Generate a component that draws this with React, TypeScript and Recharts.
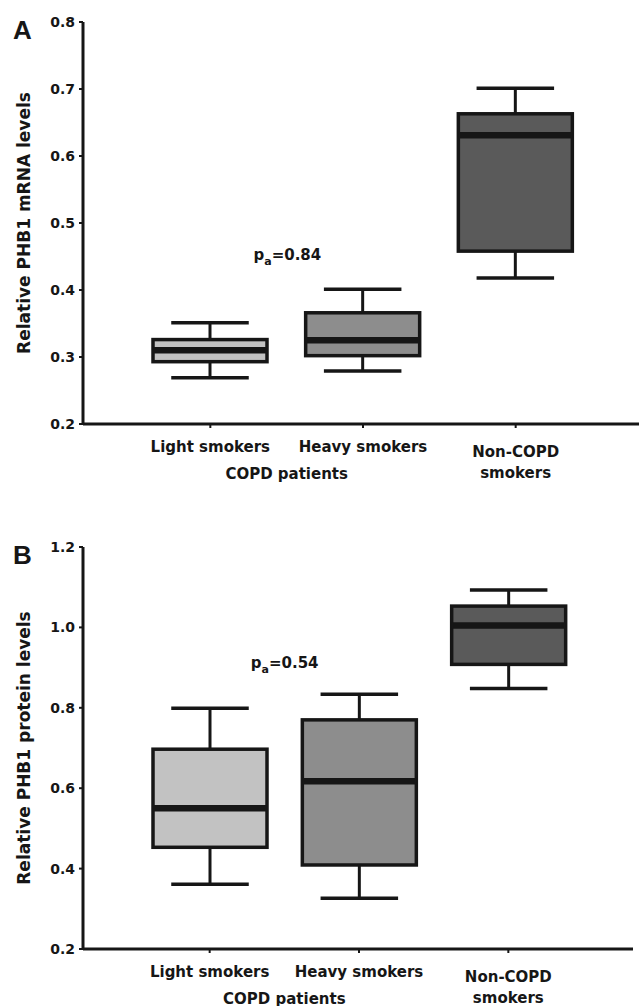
import { ComposedChart, Bar, XAxis, YAxis, ReferenceDot } from 'recharts'

const categories = ['Light smokers', 'Heavy smokers', 'Non-COPD smokers']
const categoryLines = [['Light smokers'], ['Heavy smokers'], ['Non-COPD', 'smokers']]
const groupLabel = 'COPD patients'
const fills = ['#c2c2c2', '#8d8d8d', '#5a5a5a']

// A: relative PHB1 mRNA levels
const mrnaMin = [0.269, 0.279, 0.418]
const mrnaQ1 = [0.293, 0.302, 0.458]
const mrnaMedian = [0.31, 0.325, 0.631]
const mrnaQ3 = [0.326, 0.366, 0.663]
const mrnaMax = [0.351, 0.401, 0.701]
const mrnaTicks = [0.2, 0.3, 0.4, 0.5, 0.6, 0.7, 0.8]

// B: relative PHB1 protein levels
const protMin = [0.361, 0.326, 0.848]
const protQ1 = [0.453, 0.409, 0.908]
const protMedian = [0.55, 0.617, 1.005]
const protQ3 = [0.697, 0.77, 1.053]
const protMax = [0.799, 0.834, 1.093]
const protTicks = [0.2, 0.4, 0.6, 0.8, 1.0, 1.2]

const INK = '#161616'
const FONT = 'DejaVu Sans'

const buildRows = (min: number[], q1: number[], med: number[], q3: number[], max: number[]) =>
  categories.map((name, i) => ({
    name,
    min: min[i],
    q1: q1[i],
    median: med[i],
    q3: q3[i],
    max: max[i],
    fill: fills[i],
  }))

const BoxShape = (props: any) => {
  const { x, y, width, height, payload } = props
  const { min, q1, median, q3, max, fill } = payload
  // y is the pixel of max, y + height the pixel of min
  const toPx = (v: number) => y + ((max - v) / (max - min)) * height
  const cx = x + width / 2
  const cap = width * 0.34
  const top = toPx(q3)
  const bottom = toPx(q1)
  const mid = toPx(median)
  return (
    <g>
      <line x1={cx} x2={cx} y1={y} y2={top} stroke={INK} strokeWidth={3} />
      <line x1={cx} x2={cx} y1={bottom} y2={y + height} stroke={INK} strokeWidth={3} />
      <line x1={cx - cap} x2={cx + cap} y1={y} y2={y} stroke={INK} strokeWidth={3.5} />
      <line x1={cx - cap} x2={cx + cap} y1={y + height} y2={y + height} stroke={INK} strokeWidth={3.5} />
      <rect x={x} y={top} width={width} height={bottom - top} fill={fill} stroke={INK} strokeWidth={3.5} />
      <line x1={x} x2={x + width} y1={mid} y2={mid} stroke={INK} strokeWidth={6.5} />
    </g>
  )
}

const makeTick = () => {
  let firstX = 0
  return (props: any) => {
    const { x, y, index } = props
    if (index === 0) firstX = x
    const lines = categoryLines[index] || []
    const style = { fontFamily: FONT, fontWeight: 700, fontSize: 15, fill: INK }
    return (
      <g>
        {lines.length === 1 ? (
          <text x={x} y={y + 24} textAnchor="middle" style={style}>{lines[0]}</text>
        ) : (
          lines.map((l, k) => (
            <text key={k} x={x} y={y + 29 + k * 21} textAnchor="middle" style={style}>{l}</text>
          ))
        )}
        {index === 1 && (
          <text x={(firstX + x) / 2} y={y + 51} textAnchor="middle" style={style}>{groupLabel}</text>
        )}
      </g>
    )
  }
}

const PValue = ({ cx, cy, value }: any) => (
  <text x={cx} y={cy} textAnchor="middle" style={{ fontFamily: FONT, fontWeight: 700, fontSize: 15, fill: INK }}>
    <tspan>p</tspan>
    <tspan dy={5} fontSize={11}>a</tspan>
    <tspan dy={-5}>={value}</tspan>
  </text>
)

interface PanelProps {
  letter: string
  yLabel: string
  rows: any[]
  ticks: number[]
  height: number
  xAxisHeight: number
  right: number
  padLeft: number
  padRight: number
  pValue: string
  pY: number
  pDx: number
}

const Panel = ({ letter, yLabel, rows, ticks, height, xAxisHeight, right, padLeft, padRight, pValue, pY, pDx }: PanelProps) => (
  <ComposedChart width={639} height={height} data={rows} margin={{ top: 22, right, bottom: 0, left: 0 }}>
    <XAxis
      dataKey="name"
      height={xAxisHeight}
      padding={{ left: padLeft, right: padRight }}
      axisLine={{ stroke: INK, strokeWidth: 3 }}
      tickLine={{ stroke: INK, strokeWidth: 2 }}
      tickSize={4}
      tickMargin={0}
      interval={0}
      tick={makeTick()}
    />
    <YAxis
      type="number"
      domain={[ticks[0], ticks[ticks.length - 1]]}
      ticks={ticks}
      width={83}
      interval={0}
      tickFormatter={(v: number) => v.toFixed(1)}
      axisLine={{ stroke: INK, strokeWidth: 3 }}
      tickLine={{ stroke: INK, strokeWidth: 2 }}
      tickSize={4}
      tickMargin={4}
      tick={{ fontFamily: FONT, fontWeight: 700, fontSize: 14, fill: INK }}
      label={{
        content: ({ viewBox }: any) => (
          <g>
            <text x={13} y={viewBox.y + 17} style={{ fontFamily: 'Liberation Sans', fontWeight: 700, fontSize: 26, fill: INK }}>
              {letter}
            </text>
            <text
              x={30}
              y={viewBox.y + viewBox.height / 2}
              textAnchor="middle"
              transform={`rotate(-90, 30, ${viewBox.y + viewBox.height / 2})`}
              style={{ fontFamily: FONT, fontWeight: 700, fontSize: 17, fill: INK }}
            >
              {yLabel}
            </text>
          </g>
        ),
      }}
    />
    <Bar dataKey={(d: any) => [d.min, d.max]} barSize={114} shape={BoxShape} isAnimationActive={false} />
    <ReferenceDot
      x={categories[0]}
      y={pY}
      r={0}
      shape={(p: any) => <PValue cx={p.cx + pDx} cy={p.cy} value={pValue} />}
    />
  </ComposedChart>
)

export default function App() {
  return (
    <div style={{ position: 'absolute', left: 0, top: 0, width: 639, height: 1006, background: '#fff', overflow: 'hidden' }}>
      <Panel
        letter="A"
        yLabel="Relative PHB1 mRNA levels"
        rows={buildRows(mrnaMin, mrnaQ1, mrnaMedian, mrnaQ3, mrnaMax)}
        ticks={mrnaTicks}
        height={525}
        xAxisHeight={101}
        right={0}
        padLeft={51}
        padRight={47}
        pValue="0.84"
        pY={0.445}
        pDx={77}
      />
      <Panel
        letter="B"
        yLabel="Relative PHB1 protein levels"
        rows={buildRows(protMin, protQ1, protMedian, protQ3, protMax)}
        ticks={protTicks}
        height={481}
        xAxisHeight={57}
        right={6}
        padLeft={52}
        padRight={50}
        pValue="0.54"
        pY={0.9}
        pDx={75}
      />
    </div>
  )
}
